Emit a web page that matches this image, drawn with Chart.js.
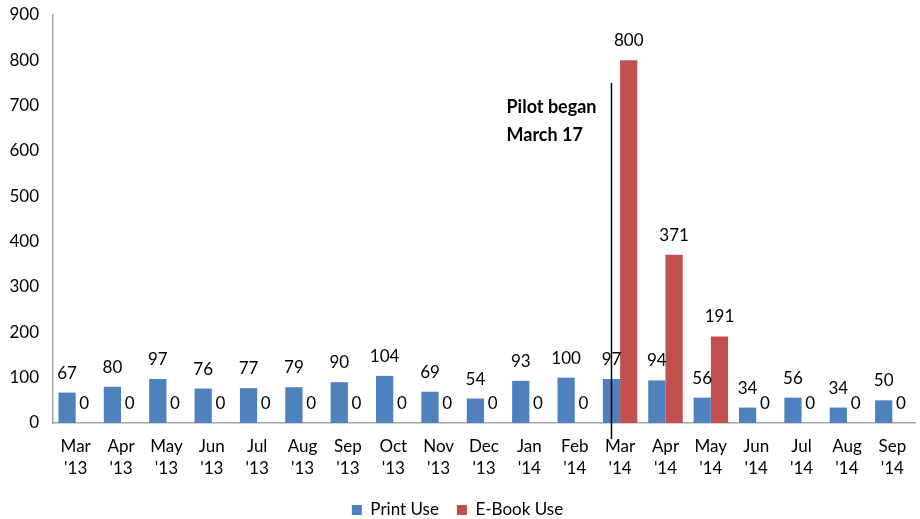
<!DOCTYPE html>
<html>
<head>
<meta charset="utf-8">
<script src="https://cdn.jsdelivr.net/npm/chart.js@4/dist/chart.umd.min.js"></script>
<style>
    html, body { margin: 0; padding: 0; background: #fff; }
    #wrap { width: 920px; height: 519px; }
</style>
</head>
<body>
<div id="wrap"><canvas id="useChart"></canvas></div>
<script>
var months = ['Mar', 'Apr', 'May', 'Jun', 'Jul', 'Aug', 'Sep', 'Oct', 'Nov', 'Dec', 'Jan', 'Feb', 'Mar', 'Apr', 'May', 'Jun', 'Jul', 'Aug', 'Sep'];
var years = ["'13", "'13", "'13", "'13", "'13", "'13", "'13", "'13", "'13", "'13", "'14", "'14", "'14", "'14", "'14", "'14", "'14", "'14", "'14"];
var printUse = [67, 80, 97, 76, 77, 79, 90, 104, 69, 54, 93, 100, 97, 94, 56, 34, 56, 34, 50];
var ebookUse = [0, 0, 0, 0, 0, 0, 0, 0, 0, 0, 0, 0, 800, 371, 191, 0, 0, 0, 0];
var pilotIndex = 12;
var pilotText = ['Pilot began', 'March 17'];

var FONT = 'Lato, "Open Sans", sans-serif';

// value labels above each bar
var barLabels = {
    id: 'barLabels',
    afterDatasetsDraw(chart) {
        var ctx = chart.ctx;
        ctx.save();
        ctx.font = '17px ' + FONT;
        ctx.fillStyle = '#000';
        ctx.textAlign = 'center';
        ctx.textBaseline = 'bottom';
        chart.data.datasets.forEach((ds, i) => {
            chart.getDatasetMeta(i).data.forEach((bar, j) => {
                ctx.fillText(ds.data[j], bar.x, bar.y - 11);
            });
        });
        ctx.restore();
    }
};

// vertical marker line with note
var pilotMarker = {
    id: 'pilotMarker',
    afterDatasetsDraw(chart) {
        var ctx = chart.ctx;
        var xs = chart.scales.x;
        var ys = chart.scales.y;
        var step = xs.getPixelForValue(1) - xs.getPixelForValue(0);
        var x = xs.getPixelForValue(pilotIndex) - step * 0.19;
        ctx.save();
        ctx.strokeStyle = '#000';
        ctx.lineWidth = 1.5;
        ctx.beginPath();
        ctx.moveTo(x, ys.getPixelForValue(750));
        ctx.lineTo(x, ys.getPixelForValue(0) + 16);
        ctx.stroke();
        ctx.font = 'bold 18px ' + FONT;
        ctx.fillStyle = '#000';
        ctx.textAlign = 'left';
        ctx.textBaseline = 'middle';
        ctx.fillText(pilotText[0], x - 105, ys.getPixelForValue(697));
        ctx.fillText(pilotText[1], x - 105, ys.getPixelForValue(635));
        ctx.restore();
    }
};

var ctxUse = document.getElementById('useChart').getContext('2d');
var useChart = new Chart(ctxUse, {
    type: 'bar',
    data: {
        labels: months.map((m, i) => [m, years[i]]),
        datasets: [{
            label: 'Print Use',
            data: printUse,
            backgroundColor: '#4F81BD'
        }, {
            label: 'E-Book Use',
            data: ebookUse,
            backgroundColor: '#C0504D'
        }]
    },
    options: {
        responsive: true,
        maintainAspectRatio: false,
        animation: false,
        layout: { padding: { top: 15, right: 5, left: 0, bottom: -9.5 } },
        datasets: {
            bar: { categoryPercentage: 0.76, barPercentage: 1.0 }
        },
        scales: {
            x: {
                grid: { display: false, drawTicks: false },
                border: { color: '#a6a6a6', width: 1.5 },
                ticks: {
                    color: '#000',
                    font: { family: FONT, size: 17, lineHeight: 1.3 },
                    padding: 12,
                    maxRotation: 0,
                    autoSkip: false
                },
                afterFit: s => { s.height = 60.5; }
            },
            y: {
                min: 0,
                max: 900,
                grid: { display: false, drawTicks: false },
                border: { color: '#a6a6a6', width: 1.5 },
                ticks: {
                    stepSize: 100,
                    color: '#000',
                    font: { family: FONT, size: 17 },
                    padding: 14
                },
                afterFit: s => {
                    s.width = 53;
                    s.paddingTop = 0;
                    s.paddingBottom = 0;
                }
            }
        },
        plugins: {
            legend: {
                position: 'bottom',
                labels: {
                    color: '#000',
                    font: { family: FONT, size: 17 },
                    boxWidth: 10,
                    boxHeight: 10,
                    padding: 18
                }
            },
            tooltip: { enabled: false }
        }
    },
    plugins: [barLabels, pilotMarker]
});
</script>
</body>
</html>
